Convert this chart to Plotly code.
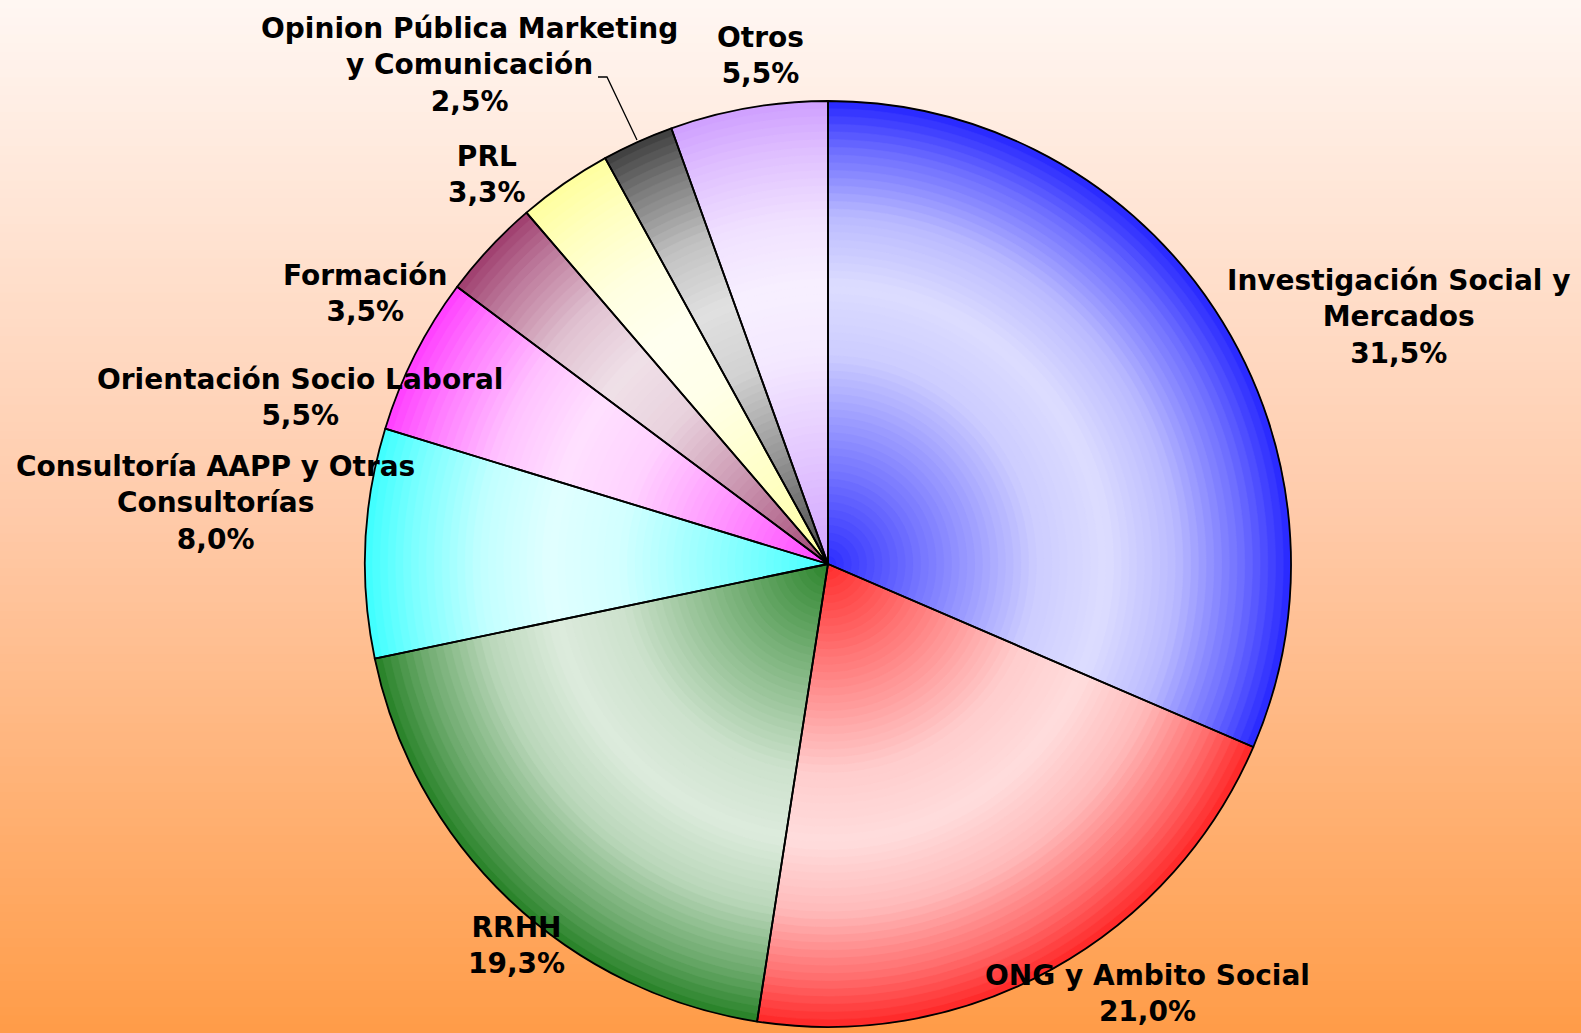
import plotly.graph_objects as go

# ---------------- data ----------------
categories = [
    "Investigación Social y<br>Mercados",
    "ONG y Ambito Social",
    "RRHH",
    "Consultoría AAPP y Otras<br>Consultorías",
    "Orientación Socio Laboral",
    "Formación",
    "PRL",
    "Opinion Pública Marketing<br>y Comunicación",
    "Otros",
]
values = [31.5, 21.0, 19.3, 8.0, 5.5, 3.5, 3.3, 2.5, 5.5]
value_labels = ["31,5%", "21,0%", "19,3%", "8,0%", "5,5%", "3,5%", "3,3%", "2,5%", "5,5%"]
base_colors = [
    (26, 26, 255), (255, 26, 26), (26, 122, 26), (51, 255, 255), (255, 51, 255),
    (153, 51, 102), (255, 255, 153), (51, 51, 51), (204, 153, 255),
]

# ---------------- layout constants ----------------
W, H = 1581, 1033
CX, CY, R = 828, 564, 463  # pixel centre / radius of the pie

# label centre positions (pixels)
label_pos = [
    (1398, 317), (1147, 993), (516, 945), (215, 503), (300, 397),
    (365, 293), (487, 175), (469, 65), (760, 56),
]

def mix(c, f):
    return "rgb(%d,%d,%d)" % tuple(round(v + (255 - v) * f) for v in c)

# lightness profile along radius (fraction of radius -> whiteness)
prof = [(0.0, 0.08), (0.2, 0.4), (0.45, 0.78), (0.6, 0.85), (0.75, 0.7), (0.9, 0.35), (1.0, 0.05)]

def lightness(r):
    for (r0, f0), (r1, f1) in zip(prof[:-1], prof[1:]):
        if r0 <= r <= r1:
            return f0 + (f1 - f0) * (r - r0) / (r1 - r0)
    return prof[-1][1]

def domain(rf):
    rr = R * rf
    return dict(x=[(CX - rr) / W, (CX + rr) / W], y=[1 - (CY + rr) / H, 1 - (CY - rr) / H])

fig = go.Figure()
N = 60
for k in range(N):
    rf = 1 - k / N
    f = lightness(rf - 0.5 / N)
    cols = [mix(c, f) for c in base_colors]
    fig.add_trace(go.Pie(
        labels=categories, values=values, sort=False, direction="clockwise",
        domain=domain(rf), textinfo="none", hoverinfo="skip", showlegend=False,
        marker=dict(colors=cols, line=dict(color=cols, width=0.6)),
    ))

# outline pie
fig.add_trace(go.Pie(
    labels=categories, values=values, sort=False, direction="clockwise",
    domain=domain(1.0), textinfo="none", showlegend=False,
    marker=dict(colors=["rgba(0,0,0,0)"] * len(values), line=dict(color="black", width=1.8)),
))

# background gradient
top, mid, bot = (255, 247, 243), (255, 202, 169), (255, 156, 72)
shapes = []
NB = 120
for i in range(NB):
    t = (i + 0.5) / NB
    if t < 0.5:
        a, b, u = top, mid, t / 0.5
    else:
        a, b, u = mid, bot, (t - 0.5) / 0.5
    col = "rgb(%d,%d,%d)" % tuple(round(x + (y - x) * u) for x, y in zip(a, b))
    shapes.append(dict(type="rect", xref="paper", yref="paper", layer="below",
                       x0=0, x1=1, y0=max(0, 1 - (i + 1.6) / NB), y1=1 - i / NB,
                       fillcolor=col, line=dict(width=0)))

# leader line for "Opinion Pública..." label
pts = [(598, 77), (607, 77), (637, 140)]
path = "M " + " L ".join("%f,%f" % (x / W, 1 - y / H) for x, y in pts)
shapes.append(dict(type="path", xref="paper", yref="paper", path=path,
                   line=dict(color="black", width=1.3)))

annotations = []
for name, lab, (px, py) in zip(categories, value_labels, label_pos):
    annotations.append(dict(
        x=px / W, y=1 - py / H, xref="paper", yref="paper",
        text="<b>%s<br>%s</b>" % (name, lab), showarrow=False, align="center",
        xanchor="center", yanchor="middle",
        font=dict(family="DejaVu Sans", size=28, color="black"),
    ))

fig.update_layout(
    width=W, height=H, margin=dict(l=0, r=0, t=0, b=0),
    paper_bgcolor="rgb(255,240,232)", plot_bgcolor="rgba(0,0,0,0)",
    shapes=shapes, annotations=annotations,
)

fig.write_html("out.html", config={"displayModeBar": False},
               post_script="document.body.style.margin='0';document.body.style.overflow='hidden';")
